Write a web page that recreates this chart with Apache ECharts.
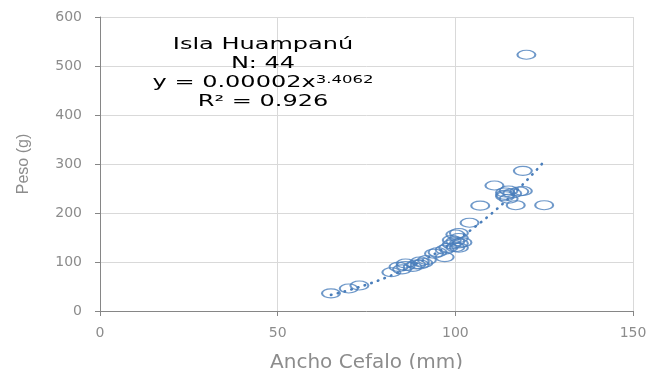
<!DOCTYPE html>
<html>
<head>
<meta charset="utf-8">
<script src="https://cdn.jsdelivr.net/npm/echarts@6/dist/echarts.min.js"></script>
<style>
  html, body { margin: 0; padding: 0; background: #ffffff; }
  #chart { width: 649px; height: 369px; }
</style>
</head>
<body>
<div id="chart"></div>
<script>
// Head width (mm) and weight (g) of the 44 specimens
var anchoCefalo = [65, 70, 73, 82, 84, 85, 86, 89, 90, 90, 94, 97, 97, 98, 99, 100, 100, 101, 101, 101, 101, 104, 107, 111, 114, 114, 115, 115, 117, 118, 119, 125, 120, 86, 91, 88, 95, 99, 102, 100, 114, 116, 119, 92];
var peso = [36, 46, 52, 79, 90, 85, 97, 95, 101, 95, 117, 125, 110, 129, 136, 142, 156, 149, 129, 159, 138, 180, 215, 256, 234, 242, 229, 246, 216, 244, 286, 216, 523, 92, 98, 90, 120, 145, 140, 130, 237, 240, 245, 104];

// Power trendline y = a * x^b (a shown rounded to 5 decimals)
var coefA = 0.000022;
var expB = 3.4062;
var r2 = 0.926;

var xTicks = [0, 50, 100, 150];
var yTicks = [0, 100, 200, 300, 400, 500, 600];

var points = anchoCefalo.map(function (x, i) { return [x, peso[i]]; });

var xMin = Math.min.apply(null, anchoCefalo);
var xMax = Math.max.apply(null, anchoCefalo);
var trend = [];
for (var x = xMin; x <= xMax + 1e-9; x += 0.5) {
  trend.push([x, coefA * Math.pow(x, expB)]);
}

// One text element per annotation line, stretched horizontally
function noteLine(y, text, rich) {
  return {
    type: 'text',
    x: 263, y: y,
    scaleX: 1.5,
    z: 10,
    style: {
      text: text,
      x: 0, y: 0,
      align: 'center',
      verticalAlign: 'middle',
      fill: '#000000',
      font: '16px "DejaVu Sans"',
      rich: rich
    }
  };
}

var grey = '#8c8c8c';
var chart = echarts.init(document.getElementById('chart'), null, { renderer: 'canvas' });
chart.setOption({
  animation: false,
  backgroundColor: '#ffffff',
  grid: { left: 100, right: 16, top: 17, bottom: 58, containLabel: false, outerBoundsMode: 'none' },
  xAxis: {
    type: 'value',
    min: xTicks[0], max: xTicks[xTicks.length - 1], interval: 50,
    name: 'Ancho Cefalo (mm)',
    nameLocation: 'middle',
    nameGap: 42,
    nameTextStyle: { color: grey, fontSize: 20, fontFamily: 'DejaVu Sans' },
    axisLine: { show: true, lineStyle: { color: '#868686', width: 1 } },
    axisTick: { show: true, length: 5, lineStyle: { color: '#868686' } },
    axisLabel: { color: grey, fontSize: 14, fontFamily: 'DejaVu Sans', margin: 15 },
    splitLine: { show: true, lineStyle: { color: '#d9d9d9', width: 1 } }
  },
  yAxis: {
    type: 'value',
    min: yTicks[0], max: yTicks[yTicks.length - 1], interval: 100,
    name: 'Peso (g)',
    nameLocation: 'middle',
    nameGap: 68,
    nameRotate: 90,
    nameTextStyle: { color: grey, fontSize: 16, fontFamily: 'Liberation Sans Narrow, Liberation Sans' },
    axisLine: { show: true, lineStyle: { color: '#868686', width: 1 } },
    axisTick: { show: true, length: 5, lineStyle: { color: '#868686' } },
    axisLabel: { color: grey, fontSize: 14, fontFamily: 'DejaVu Sans', margin: 18 },
    splitLine: { show: true, lineStyle: { color: '#d9d9d9', width: 1 } }
  },
  series: [
    {
      type: 'scatter',
      data: points,
      symbol: 'path://M0 10 A20 10 0 1 1 40 10 A20 10 0 1 1 0 10 Z',
      symbolSize: [18, 9],
      itemStyle: { color: 'rgba(0,0,0,0)', borderColor: '#4a7ebb', borderWidth: 1.5 },
      z: 3
    },
    {
      type: 'line',
      data: trend,
      showSymbol: false,
      smooth: false,
      lineStyle: { color: '#4a7ebb', width: 2.6, type: [0.5, 6.5], cap: 'round' },
      z: 4
    }
  ],
  graphic: [
    noteLine(45, 'Isla Huampanú'),
    noteLine(64, 'N: 44'),
    noteLine(83, '{t|y = ' + coefA.toFixed(5) + 'x}{sup|' + expB + '}', {
      t: { fontSize: 16, fontFamily: 'DejaVu Sans', fill: '#000000', verticalAlign: 'bottom' },
      sup: { fontSize: 11, fontFamily: 'DejaVu Sans', fill: '#000000', verticalAlign: 'top' }
    }),
    noteLine(102, 'R² = ' + r2)
  ]
});
</script>
</body>
</html>
